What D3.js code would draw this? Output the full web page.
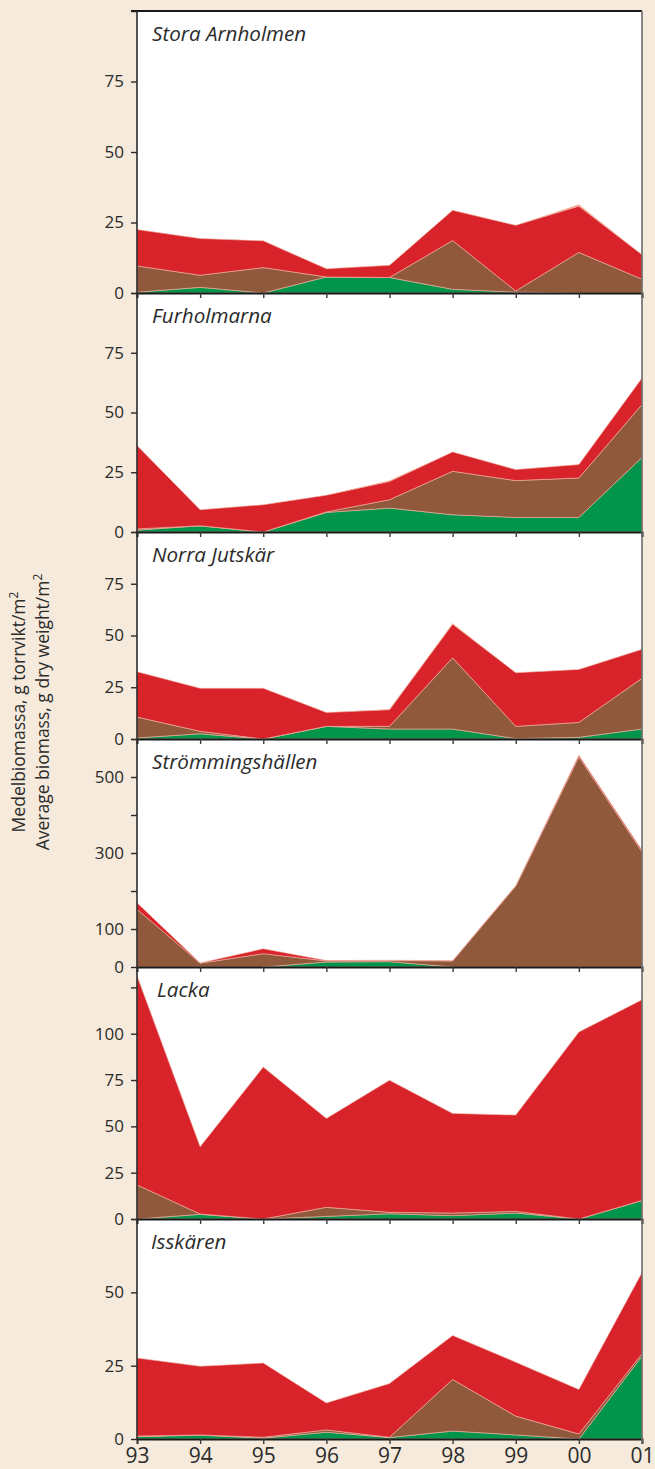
<!DOCTYPE html>
<html>
<head>
<meta charset="utf-8">
<script src="https://cdn.jsdelivr.net/npm/d3@7"></script>
<style>
  html, body { margin: 0; padding: 0; background: #f5eadb; }
  svg { display: block; }
</style>
</head>
<body>
<svg id="chart" width="655" height="1469"></svg>
<script>
// Sampling years (1993–2001)
const years = ["93", "94", "95", "96", "97", "98", "99", "00", "01"];

// Sites, top to bottom
const sites = ["Stora Arnholmen", "Furholmarna", "Norra Jutskär", "Strömmingshällen", "Lacka", "Isskären"];

// Mean biomass, g dry weight/m², per site (rows) and year (columns)
const greenAlgae = [
  [0.3, 2.0, 0.0, 5.7, 5.5, 1.3, 0.3, 0.0, 0.0],
  [0.8, 2.6, 0.0, 8.2, 10.0, 7.2, 6.1, 6.1, 31.2],
  [0.5, 2.5, 0.0, 6.1, 4.8, 4.8, 0.2, 0.8, 4.8],
  [0, 0, 0, 13, 14, 0, 0, 0, 0],
  [0.0, 2.5, 0.0, 1.4, 2.8, 1.8, 3.2, 0.0, 10.0],
  [0.8, 1.3, 0.3, 2.3, 0.5, 2.7, 1.4, 0.0, 28.2]
];
const brownAlgae = [
  [9.3, 4.3, 9.0, 0.0, 0.0, 17.3, 0.4, 14.4, 4.9],
  [0.5, 0.0, 0.0, 0.2, 3.5, 18.2, 15.4, 16.5, 22.1],
  [10.1, 1.2, 0.0, 0.0, 1.3, 34.4, 5.9, 7.2, 24.5],
  [152, 10, 35, 3, 3, 16, 213, 553, 303],
  [18.4, 0.2, 0.0, 4.9, 0.8, 1.4, 0.9, 0.0, 0.0],
  [0.2, 0.1, 0.3, 0.8, 0.1, 17.6, 6.4, 1.7, 0.9]
];
const redAlgae = [
  [12.9, 13.0, 9.5, 2.9, 4.3, 10.7, 23.3, 16.4, 8.7],
  [34.9, 6.7, 11.4, 7.0, 7.6, 8.1, 4.6, 5.6, 11.1],
  [21.9, 20.8, 24.5, 6.7, 8.0, 16.2, 25.9, 25.6, 14.0],
  [17, 0.5, 13, 1, 1, 0.5, 1, 4, 4],
  [112.9, 36.3, 82.0, 48.0, 71.3, 53.8, 52.0, 100.9, 108.3],
  [26.6, 23.4, 25.3, 9.2, 18.3, 15.0, 18.4, 15.2, 27.7]
];
const otherAlgae = [
  [0, 0, 0, 0, 0, 0, 0, 0.6, 0],
  [0, 0, 0, 0, 0.5, 0, 0, 0, 0],
  [0, 0, 0, 0, 0.3, 0.5, 0, 0, 0],
  [0, 0, 0, 0, 0, 0, 0, 0, 0],
  [0, 0, 0, 0, 0, 0, 0, 0, 0],
  [0, 0, 0, 0, 0, 0, 0, 0, 0]
];

// Y axis per site: upper limit, tick positions and which ticks carry a label
const yMax = [100, 100, 100, 600, 136, 75];
const yTicks = [
  [0, 25, 50, 75, 100],
  [0, 25, 50, 75, 100],
  [0, 25, 50, 75, 100],
  [0, 100, 200, 300, 400, 500, 600],
  [0, 25, 50, 75, 100, 125],
  [0, 25, 50, 75]
];
const yTickLabels = [
  ["0", "25", "50", "75"],
  ["0", "25", "50", "75"],
  ["0", "25", "50", "75"],
  ["0", "100", "300", "500"],
  ["0", "25", "50", "75", "100"],
  ["0", "25", "50"]
];

const seriesKeys = ["green", "brown", "red", "other"];
const seriesColors = { green: "#00954b", brown: "#91593c", red: "#d9232a", other: "#f2a48e" };

// ---- layout ----
const plotLeft = 137, plotRight = 642;
const panelEdges = [11, 293, 532, 739, 967, 1219, 1439];
const titleInset = [15, 15, 15, 15, 20, 14];
const fontStack = "'Open Sans', 'Noto Sans', sans-serif";

const svg = d3.select("#chart");
const x = d3.scalePoint().domain(years).range([plotLeft, plotRight]);

// white plot background
svg.append("rect")
  .attr("x", plotLeft).attr("y", panelEdges[0])
  .attr("width", plotRight - plotLeft)
  .attr("height", panelEdges[panelEdges.length - 1] - panelEdges[0])
  .attr("fill", "#ffffff");

const stack = d3.stack().keys(seriesKeys);

sites.forEach((site, i) => {
  const top = panelEdges[i], bottom = panelEdges[i + 1];
  const y = d3.scaleLinear().domain([0, yMax[i]]).range([bottom, top]);

  const rows = years.map((yr, j) => ({
    year: yr,
    green: greenAlgae[i][j],
    brown: brownAlgae[i][j],
    red: redAlgae[i][j],
    other: otherAlgae[i][j]
  }));
  const layers = stack(rows);

  const area = d3.area()
    .x(d => x(d.data.year))
    .y0(d => y(d[0]))
    .y1(d => y(d[1]));

  const g = svg.append("g").attr("class", "panel");

  g.selectAll("path.layer")
    .data(layers)
    .join("path")
    .attr("class", "layer")
    .attr("d", area)
    .attr("fill", d => seriesColors[d.key])
    .attr("stroke", d => d.key === "other" ? "none" : "#f0b4a4")
    .attr("stroke-width", 0.6)
    .attr("stroke-linejoin", "round");

  // left ticks and labels
  const labelled = new Set(yTickLabels[i]);
  const yAxis = d3.axisLeft(y)
    .tickValues(yTicks[i])
    .tickSize(6)
    .tickPadding(7)
    .tickFormat(v => labelled.has(String(v)) ? String(v) : "");
  const ya = svg.append("g")
    .attr("transform", `translate(${plotLeft},0)`)
    .call(yAxis);
  ya.select(".domain").remove();
  ya.selectAll(".tick line").attr("stroke", "#2b2b2b").attr("stroke-width", 1.4);
  ya.selectAll(".tick text")
    .attr("fill", "#2b2b2b")
    .style("font-family", fontStack)
    .style("font-size", "17px");

  // bottom line of the panel with year ticks
  const last = i === sites.length - 1;
  const xAxis = d3.axisBottom(x)
    .tickSize(5)
    .tickPadding(4)
    .tickFormat(last ? (d => d) : "");
  const xa = svg.append("g")
    .attr("transform", `translate(0,${bottom})`)
    .call(xAxis);
  xa.select(".domain").attr("stroke", "#1a1a1a").attr("stroke-width", 1.8);
  xa.selectAll(".tick line").attr("stroke", "#3a3a3a").attr("stroke-width", 1.4);
  xa.selectAll(".tick text")
    .attr("fill", "#2b2b2b")
    .style("font-family", fontStack)
    .style("font-size", "21px");

  // site name
  svg.append("text")
    .attr("x", plotLeft + titleInset[i])
    .attr("y", top + 30)
    .attr("fill", "#2b2b2b")
    .style("font-family", fontStack)
    .style("font-style", "italic")
    .style("font-size", "20.6px")
    .text(site);
});

// frame: top, left axis line and right edge
svg.append("line")
  .attr("x1", plotLeft - 6).attr("x2", plotRight)
  .attr("y1", panelEdges[0]).attr("y2", panelEdges[0])
  .attr("stroke", "#1a1a1a").attr("stroke-width", 1.8);
svg.append("line")
  .attr("x1", plotLeft).attr("x2", plotLeft)
  .attr("y1", panelEdges[0]).attr("y2", panelEdges[panelEdges.length - 1] + 1)
  .attr("stroke", "#2b2b2b").attr("stroke-width", 1.6);
svg.append("line")
  .attr("x1", plotRight).attr("x2", plotRight)
  .attr("y1", panelEdges[0]).attr("y2", panelEdges[panelEdges.length - 1] + 5)
  .attr("stroke", "#6a6a6a").attr("stroke-width", 1.6);

// y axis title, two languages
const titleLines = ["Medelbiomassa, g torrvikt/m", "Average biomass, g dry weight/m"];
const titleX = [25, 49];
titleLines.forEach((t, k) => {
  const txt = svg.append("text")
    .attr("transform", `translate(${titleX[k]},712) rotate(-90)`)
    .attr("text-anchor", "middle")
    .attr("fill", "#2b2b2b")
    .style("font-family", fontStack)
    .style("font-size", "17.5px");
  txt.append("tspan").text(t);
  txt.append("tspan").attr("dy", -7).style("font-size", "12px").text("2");
});
</script>
</body>
</html>
